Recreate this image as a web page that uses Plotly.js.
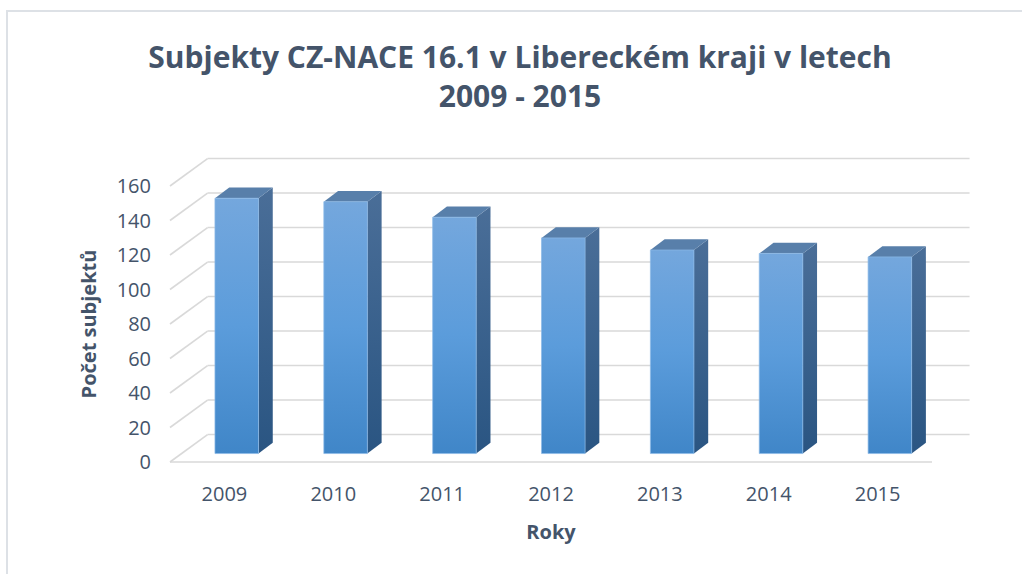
<!DOCTYPE html>
<html>
<head>
<meta charset="utf-8">
<script src="https://cdn.plot.ly/plotly-3.0.1.min.js"></script>
<style>html,body{margin:0;padding:0;background:#fff;}#chart{width:1022px;height:574px;}</style>
</head>
<body>
<div id="chart"></div>
<script>
// ---- data ----
const years = ['2009', '2010', '2011', '2012', '2013', '2014', '2015'];
const counts = [148, 146, 137, 125, 118, 116, 114];
const yTickValues = [0, 20, 40, 60, 80, 100, 120, 140, 160];

// ---- geometry of the oblique 3D look (in axis units) ----
const G = { ox: 0.113, oy: 4.9, hw: 0.2, bx: 0.131, by: 6.2, dx: 0.345, dy: 15.9 };
const X_MIN = -0.5, X_MAX = 6.5, Y_MAX = 160;
const TXT = '#44546A';
const GRID = '#D9D9D9';
const FONT = 'Open Sans, sans-serif';

const traces = [];
counts.forEach((v, i) => {
  const x0 = i + G.ox - G.hw, x1 = i + G.ox + G.hw;
  const y0 = G.oy, y1 = G.oy + v;
  // side face
  traces.push({
    type: 'scatter', mode: 'lines', fill: 'toself', hoverinfo: 'skip', showlegend: false,
    x: [x1, x1 + G.bx, x1 + G.bx, x1, x1],
    y: [y0, y0 + G.by, y1 + G.by, y1, y0],
    line: { width: 0, color: 'rgba(0,0,0,0)' },
    fillgradient: { type: 'vertical', colorscale: [[0, '#2A5582'], [1, '#4A6E98']] }
  });
  // top face
  traces.push({
    type: 'scatter', mode: 'lines', fill: 'toself', hoverinfo: 'skip', showlegend: false,
    x: [x0, x1, x1 + G.bx, x0 + G.bx, x0],
    y: [y1, y1, y1 + G.by, y1 + G.by, y1],
    line: { width: 0, color: 'rgba(0,0,0,0)' },
    fillcolor: '#587FAA'
  });
  // front face
  traces.push({
    type: 'scatter', mode: 'lines', fill: 'toself', hoverinfo: 'skip', showlegend: false,
    name: years[i],
    x: [x0, x1, x1, x0, x0],
    y: [y0, y0, y1, y1, y0],
    line: { width: 0.8, color: 'rgba(140,185,232,0.9)' },
    fillgradient: { type: 'vertical', colorscale: [[0, '#4086C8'], [0.5, '#5B9CDB'], [1, '#74A7DD']] }
  });
});

// ---- walls / gridlines (paper coordinates derived from axis units) ----
const xp = x => (x - X_MIN) / (X_MAX - X_MIN);
const yp = y => y / Y_MAX;
const shapes = [];
yTickValues.forEach(v => {
  // back wall line
  shapes.push({ type: 'line', xref: 'paper', yref: 'paper', layer: 'below',
    x0: xp(X_MIN + G.dx), x1: xp(X_MAX + G.dx), y0: yp(v + G.dy), y1: yp(v + G.dy),
    line: { color: GRID, width: 1.6 } });
  // side wall diagonal
  shapes.push({ type: 'line', xref: 'paper', yref: 'paper', layer: 'below',
    x0: xp(X_MIN), x1: xp(X_MIN + G.dx), y0: yp(v), y1: yp(v + G.dy),
    line: { color: GRID, width: 1.6 } });
});
// floor front edge
shapes.push({ type: 'line', xref: 'paper', yref: 'paper', layer: 'below',
  x0: xp(X_MIN), x1: xp(X_MAX), y0: yp(0), y1: yp(0),
  line: { color: GRID, width: 1.6 } });

// chart-area border (top & left edges visible)
const M = { l: 170, r: 90, t: 186, b: 112 };
const W = 1022, H = 574;
const pw = W - M.l - M.r, ph = H - M.t - M.b;
const pxX = px => (px - M.l) / pw;
const pxY = py => (H - M.b - py) / ph;
shapes.push({ type: 'rect', xref: 'paper', yref: 'paper', layer: 'below',
  x0: pxX(7), x1: pxX(1040), y0: pxY(11), y1: pxY(600),
  line: { color: '#DDE1E6', width: 2 }, fillcolor: 'rgba(0,0,0,0)' });

const layout = {
  width: W, height: H,
  margin: M,
  paper_bgcolor: '#FFFFFF', plot_bgcolor: 'rgba(0,0,0,0)',
  showlegend: false,
  font: { family: FONT, color: TXT },
  title: {
    text: 'Subjekty CZ-NACE 16.1 v Libereckém kraji v letech<br>2009 - 2015',
    font: { family: FONT, size: 30, color: TXT, weight: 'bold' },
    xref: 'container', yref: 'container',
    x: 520 / W, xanchor: 'center',
    y: 1 - 68 / H, yanchor: 'top'
  },
  xaxis: {
    range: [X_MIN, X_MAX], tickvals: [0, 1, 2, 3, 4, 5, 6], ticktext: years,
    showgrid: false, zeroline: false, showline: false, ticks: '',
    tickfont: { family: FONT, size: 20, color: TXT },
    ticklabelstandoff: 18,
    title: { text: 'Roky', font: { family: FONT, size: 20, color: TXT, weight: 'bold' }, standoff: 18 },
    fixedrange: true
  },
  yaxis: {
    range: [0, Y_MAX], tickvals: yTickValues,
    showgrid: false, zeroline: false, showline: false, ticks: '',
    tickfont: { family: FONT, size: 20, color: TXT },
    ticklabelstandoff: 18,
    title: { text: 'Počet subjektů', font: { family: FONT, size: 20, color: TXT, weight: 'bold' }, standoff: 14 },
    fixedrange: true
  },
  shapes: shapes
};

Plotly.newPlot('chart', traces, layout, { displayModeBar: false, staticPlot: true });
</script>
</body>
</html>
